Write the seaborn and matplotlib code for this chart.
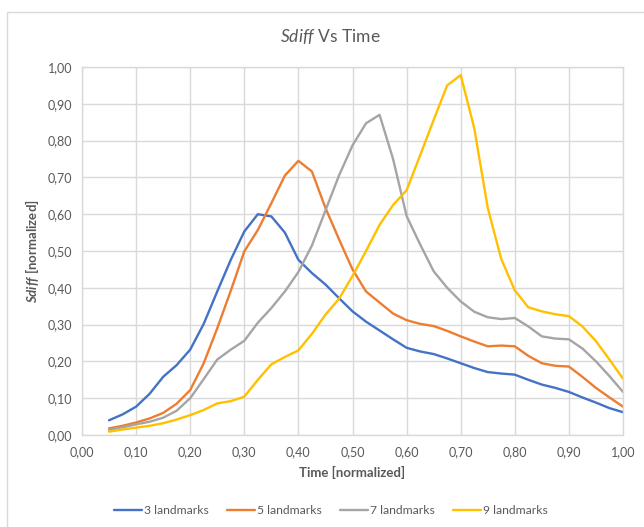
import matplotlib
matplotlib.use('Agg')
import matplotlib.pyplot as plt
from matplotlib.patches import Rectangle
from matplotlib.ticker import FuncFormatter
import seaborn as sns
import pandas as pd

# values
time = [0.05, 0.075, 0.10, 0.125, 0.15, 0.175, 0.20, 0.225, 0.25, 0.275,
        0.30, 0.325, 0.35, 0.375, 0.40, 0.425, 0.45, 0.475, 0.50, 0.525,
        0.55, 0.575, 0.60, 0.625, 0.65, 0.675, 0.70, 0.725, 0.75, 0.775,
        0.80, 0.825, 0.85, 0.875, 0.90, 0.925, 0.95, 0.975, 1.00]

lm3 = [0.040, 0.056, 0.077, 0.112, 0.158, 0.190, 0.232, 0.302, 0.390, 0.476,
       0.553, 0.600, 0.594, 0.550, 0.476, 0.440, 0.409, 0.372, 0.336, 0.308,
       0.284, 0.260, 0.237, 0.227, 0.220, 0.208, 0.195, 0.182, 0.171, 0.167,
       0.164, 0.150, 0.137, 0.128, 0.117, 0.102, 0.088, 0.073, 0.062]

lm5 = [0.018, 0.025, 0.034, 0.045, 0.060, 0.085, 0.122, 0.195, 0.290, 0.392,
       0.499, 0.557, 0.630, 0.705, 0.745, 0.716, 0.617, 0.532, 0.450, 0.390,
       0.360, 0.330, 0.312, 0.302, 0.296, 0.283, 0.268, 0.254, 0.241, 0.243,
       0.241, 0.215, 0.195, 0.188, 0.186, 0.158, 0.128, 0.102, 0.077]

lm7 = [0.014, 0.021, 0.029, 0.036, 0.047, 0.066, 0.100, 0.152, 0.205, 0.232,
       0.256, 0.305, 0.345, 0.390, 0.443, 0.515, 0.610, 0.705, 0.787, 0.847,
       0.870, 0.750, 0.595, 0.518, 0.445, 0.400, 0.363, 0.335, 0.320, 0.315,
       0.318, 0.295, 0.268, 0.262, 0.260, 0.235, 0.200, 0.160, 0.117]

lm9 = [0.009, 0.015, 0.020, 0.025, 0.032, 0.042, 0.054, 0.068, 0.086, 0.092,
       0.104, 0.150, 0.192, 0.212, 0.230, 0.275, 0.327, 0.370, 0.432, 0.500,
       0.571, 0.625, 0.665, 0.760, 0.856, 0.950, 0.978, 0.834, 0.617, 0.478,
       0.393, 0.347, 0.336, 0.328, 0.323, 0.295, 0.255, 0.205, 0.153]

series_names = ['3 landmarks', '5 landmarks', '7 landmarks', '9 landmarks']
colors = ['#4472C4', '#ED7D31', '#A5A5A5', '#FFC000']
ticks = [0.0, 0.1, 0.2, 0.3, 0.4, 0.5, 0.6, 0.7, 0.8, 0.9, 1.0]

sns.set_theme(style='whitegrid')
plt.rcParams['font.family'] = ['Lato', 'DejaVu Sans']
plt.rcParams['mathtext.fontset'] = 'custom'
plt.rcParams['mathtext.it'] = 'Lato:italic'
plt.rcParams['mathtext.bf'] = 'Lato:italic:bold'

txt = '#595959'
grid = '#d9d9d9'

df = pd.concat([pd.DataFrame({'time': time, 'sdiff': vals, 'series': name})
                for vals, name in zip([lm3, lm5, lm7, lm9], series_names)])

fig = plt.figure(figsize=(6.44, 5.27), dpi=100)
ax = fig.add_axes([82/644, 1-435/527, 541/644, 368/527])

sns.lineplot(data=df, x='time', y='sdiff', hue='series', palette=colors,
             linewidth=1.7, errorbar=None, ax=ax, solid_capstyle='round',
             solid_joinstyle='round')

ax.set_xlim(0, 1)
ax.set_ylim(0, 1)
ax.set_xticks(ticks)
ax.set_yticks(ticks)
fmt = FuncFormatter(lambda v, _: f'{v:.2f}'.replace('.', ','))
ax.xaxis.set_major_formatter(fmt)
ax.yaxis.set_major_formatter(fmt)
ax.tick_params(axis='both', length=0, labelsize=9, colors=txt)
ax.tick_params(axis='x', pad=8)
ax.tick_params(axis='y', pad=7)
ax.grid(True, color=grid, linewidth=1)
for s in ax.spines.values():
    s.set_color(grid)
    s.set_linewidth(1)

ax.set_xlabel('Time [normalized]', fontsize=9.5, fontweight='bold', color=txt)
ax.set_ylabel(r'$\mathbf{Sdiff}$ [normalized]', fontsize=9.5, fontweight='bold', color=txt)
ax.xaxis.set_label_coords(0.5, -0.085)
ax.yaxis.set_label_coords(-0.075, 0.5)

fig.text(330/644, 1-37/527, r'$\mathit{Sdiff}$ Vs Time', fontsize=12.5, color=txt,
         ha='center', va='center')

handles, labels = ax.get_legend_handles_labels()
ax.legend(handles, labels, loc='center', bbox_to_anchor=((331-82)/541, (435-511)/368),
          ncol=4, frameon=False, fontsize=8.7, labelcolor=txt, handlelength=2.3,
          handletextpad=0.2, columnspacing=1.5)

fig.patches.append(Rectangle((7/644, -0.02), 1.5, 1-12/527+0.02, transform=fig.transFigure,
                             fill=False, edgecolor=grid, linewidth=1))

fig.savefig('out.png', dpi=100)
